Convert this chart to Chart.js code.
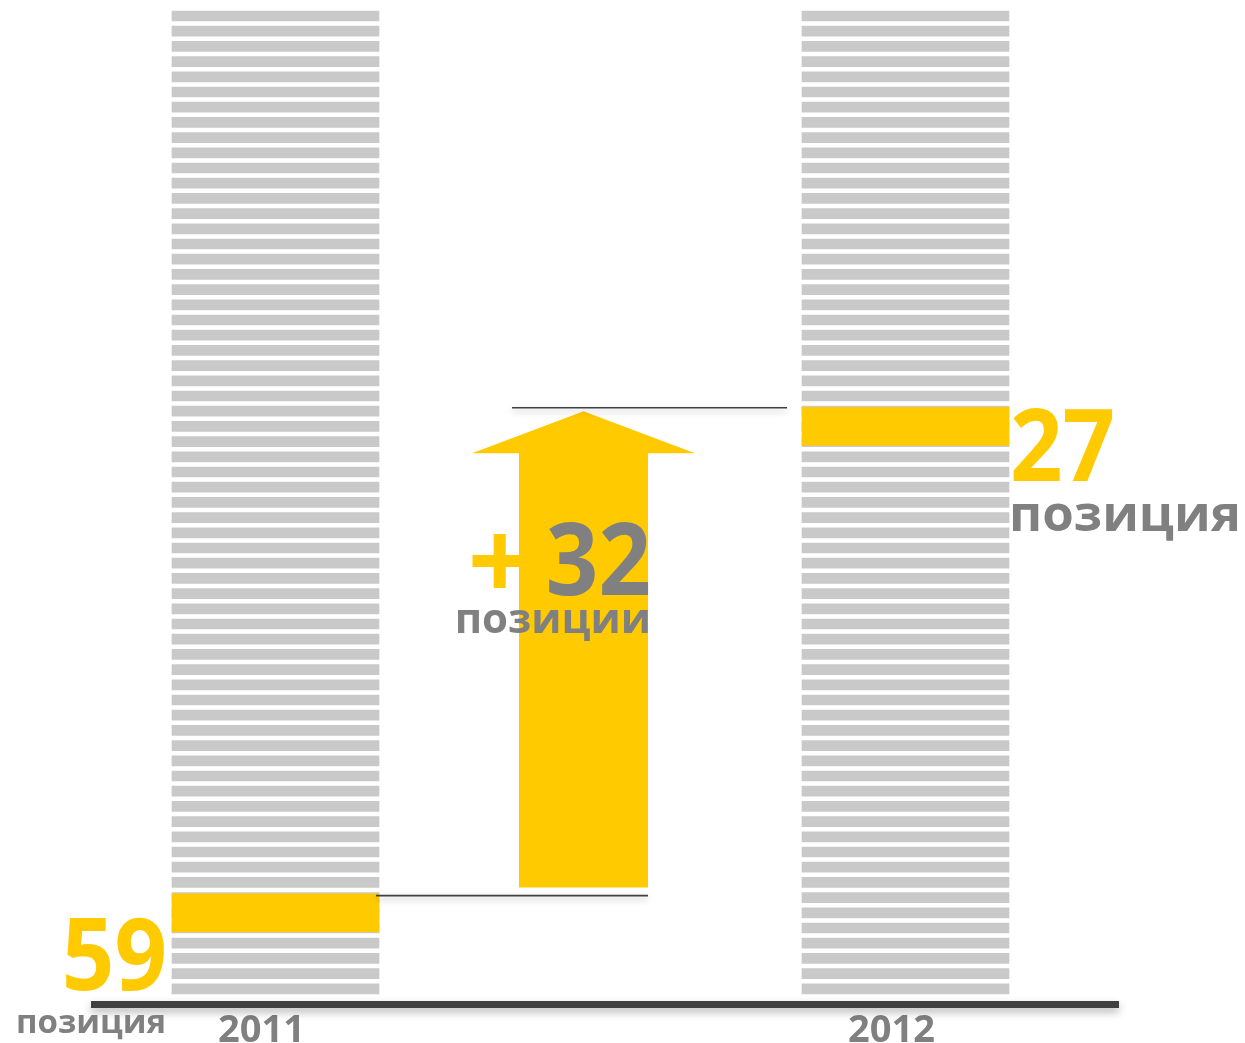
<!DOCTYPE html>
<html>
<head>
<meta charset="utf-8">
<script src="https://cdn.jsdelivr.net/npm/chart.js@4.4.1/dist/chart.umd.min.js"></script>
<style>
  html, body { margin: 0; padding: 0; background: #fff; }
  #wrap { width: 1245px; height: 1043px; position: relative; }
</style>
</head>
<body>
<div id="wrap"><canvas id="rank-chart"></canvas></div>
<script>
// data
const years = [2011, 2012];
const yearLabels = ['2011', '2012'];
const ranks = [59, 27];
const totalPositions = 65;
const rankWords = ['позиция', 'позиция'];
const changeWord = 'позиции';

// styles
const YELLOW = '#FFCA00';
const STRIPE = '#C9C9C9';
const GRAY = '#808080';
const DARK = '#404040';
const FONT = "'Open Sans', sans-serif";
const STRIPE_H = 0.66;
const DIGIT_SX = 0.92; // squeeze the big numbers a bit

const positions = Array.from({ length: totalPositions }, (_, i) => i + 1);

const stripeSets = positions.map(p => ({
    data: years.map(y => ({ x: y, y: [p, p + STRIPE_H] })),
    backgroundColor: STRIPE
}));

// highlighted block covers the rank stripe and the two below it
const highlightSet = {
    data: years.map((y, i) => ({ x: y, y: [ranks[i] + 0.08, ranks[i] + 2.58] })),
    backgroundColor: YELLOW
};

// draw text squeezed horizontally, anchored like fillText
function squeezedText(ctx, text, x, y, sx) {
    ctx.save();
    ctx.translate(x, y);
    ctx.scale(sx, 1);
    ctx.fillText(text, 0, 0);
    ctx.restore();
}

const annotations = {
    id: 'annotations',
    afterDatasetsDraw(chart) {
        const { ctx, chartArea } = chart;
        const xs = chart.scales.x;
        const ys = chart.scales.y;
        const half = 103.5;
        const c1 = xs.getPixelForValue(years[0]);
        const c2 = xs.getPixelForValue(years[1]);
        const top1 = ys.getPixelForValue(ranks[0]);
        const top2 = ys.getPixelForValue(ranks[1]);

        // big arrow
        const ax = (c1 + c2) / 2 - 7;
        const shaftHalf = 64.5, headHalf = 111.5;
        const bottom = top1 - 5;
        const tip = top2 + 5;
        const headBase = tip + 42;
        ctx.save();
        ctx.fillStyle = YELLOW;
        ctx.beginPath();
        ctx.moveTo(ax - shaftHalf, bottom);
        ctx.lineTo(ax - shaftHalf, headBase);
        ctx.lineTo(ax - headHalf, headBase);
        ctx.lineTo(ax, tip);
        ctx.lineTo(ax + headHalf, headBase);
        ctx.lineTo(ax + shaftHalf, headBase);
        ctx.lineTo(ax + shaftHalf, bottom);
        ctx.closePath();
        ctx.fill();
        ctx.restore();

        // connector lines with soft shadow
        ctx.save();
        ctx.strokeStyle = DARK;
        ctx.lineWidth = 1.6;
        ctx.shadowColor = 'rgba(0,0,0,0.3)';
        ctx.shadowBlur = 6;
        ctx.shadowOffsetY = 3;
        ctx.beginPath();
        ctx.moveTo(c1 + half - 3, top1 + 3);
        ctx.lineTo(ax + shaftHalf, top1 + 3);
        ctx.moveTo(ax - shaftHalf - 7, top2 + 1.5);
        ctx.lineTo(c2 - half - 15, top2 + 1.5);
        ctx.stroke();

        // axis line
        ctx.lineWidth = 7;
        ctx.shadowBlur = 8;
        ctx.shadowOffsetY = 4;
        ctx.beginPath();
        ctx.moveTo(chartArea.left, chartArea.bottom);
        ctx.lineTo(chartArea.right, chartArea.bottom);
        ctx.stroke();
        ctx.restore();

        ctx.save();
        ctx.textBaseline = 'alphabetic';

        // 2011 label
        ctx.fillStyle = YELLOW;
        ctx.font = `bold 100px ${FONT}`;
        ctx.textAlign = 'right';
        squeezedText(ctx, String(ranks[0]), c1 - half - 5, chartArea.bottom - 14.5, DIGIT_SX);
        ctx.fillStyle = GRAY;
        ctx.font = `bold 33px ${FONT}`;
        ctx.fillText(rankWords[0], c1 - half - 6, chartArea.bottom + 28.5);

        // 2012 label
        ctx.textAlign = 'left';
        ctx.fillStyle = YELLOW;
        ctx.font = `bold 100px ${FONT}`;
        squeezedText(ctx, String(ranks[1]), c2 + half + 1, top2 + 75, DIGIT_SX);
        ctx.fillStyle = GRAY;
        ctx.font = `bold 51px ${FONT}`;
        ctx.fillText(rankWords[1], c2 + half, top2 + 125);

        // change label
        const diff = ranks[0] - ranks[1];
        const right = ax + shaftHalf + 3;
        ctx.textAlign = 'right';
        ctx.font = `bold 100px ${FONT}`;
        ctx.fillStyle = GRAY;
        squeezedText(ctx, String(diff), right, top2 + 189, DIGIT_SX);
        const w = ctx.measureText(String(diff)).width * DIGIT_SX;
        ctx.fillStyle = YELLOW;
        ctx.font = `bold 112px ${FONT}`;
        ctx.fillText('+', right - w - 14, top2 + 194);
        ctx.fillStyle = GRAY;
        ctx.font = `bold 42px ${FONT}`;
        ctx.fillText(changeWord, right, top2 + 227);
        ctx.restore();
    }
};

const ctx = document.getElementById('rank-chart').getContext('2d');
new Chart(ctx, {
    type: 'bar',
    data: { datasets: [highlightSet, ...stripeSets] },
    options: {
        responsive: true,
        maintainAspectRatio: false,
        devicePixelRatio: 1,
        animation: false,
        layout: { padding: { left: 91, right: 126, top: 0, bottom: 0 } },
        datasets: {
            bar: { grouped: false, barThickness: 207, borderWidth: 0 }
        },
        plugins: {
            legend: { display: false },
            tooltip: { enabled: false }
        },
        scales: {
            x: {
                type: 'linear',
                min: 2011 - 184.5 / 630,
                max: 2012 + 213.5 / 630,
                offset: false,
                grid: { display: false, drawTicks: false },
                border: { display: false },
                afterBuildTicks: scale => {
                    scale.ticks = years.map(v => ({ value: v }));
                },
                afterFit: scale => {
                    scale.height = 38.5;
                },
                ticks: {
                    autoSkip: false,
                    maxRotation: 0,
                    padding: 4,
                    labelOffset: -14,
                    color: GRAY,
                    font: { family: FONT, size: 38, weight: 'bold' },
                    callback: value => yearLabels[years.indexOf(value)]
                }
            },
            y: {
                display: false,
                reverse: true,
                min: 0.2763,
                max: 66.362
            }
        }
    },
    plugins: [annotations]
});
</script>
</body>
</html>
